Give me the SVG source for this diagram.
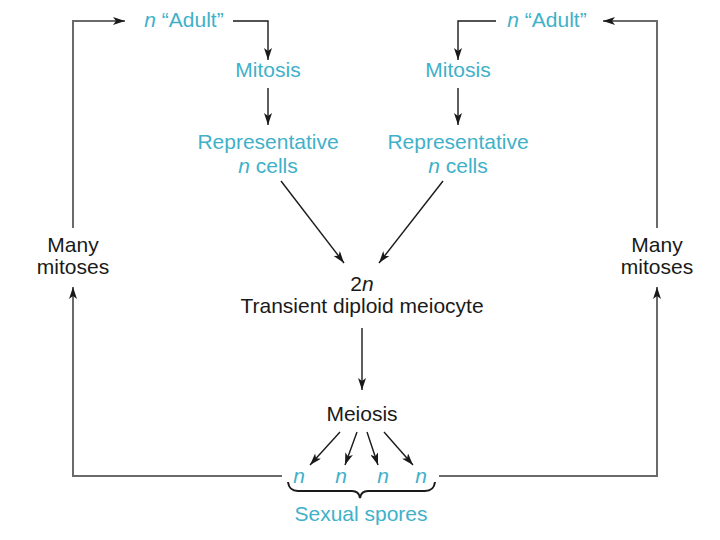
<svg xmlns="http://www.w3.org/2000/svg" width="720" height="540" viewBox="0 0 720 540">
<defs>
<style>
text{font-family:"Liberation Sans",Arial,sans-serif;font-size:21px;text-anchor:middle}
.c{fill:#3fb1c9}
.k{fill:#1a1a1a}
.i{font-style:italic}
.loop{fill:none;stroke:#6a6a6a;stroke-width:2}
.arr{fill:none;stroke:#1a1a1a;stroke-width:1.4}
</style>
<marker id="ah" viewBox="0 0 12 8" refX="12" refY="4" markerWidth="12" markerHeight="8" markerUnits="userSpaceOnUse" orient="auto">
<path d="M0,0 L12,4 L0,8 L3,4 z" fill="#1a1a1a"/>
</marker>
</defs>
<rect width="720" height="540" fill="#fff"/>
<g id="connectors">
<path class="loop" d="M73,228 V21 H125" marker-end="url(#ah)"/>
<path class="loop" d="M282,476 H73 V287" marker-end="url(#ah)"/>
<path class="loop" d="M657,228 V21 H603" marker-end="url(#ah)"/>
<path class="loop" d="M439,476 H657 V287" marker-end="url(#ah)"/>
<path class="arr" d="M233,21 H268 V60" marker-end="url(#ah)"/>
<path class="arr" d="M496,21 H458 V60" marker-end="url(#ah)"/>
<path class="arr" d="M268,88 V125" marker-end="url(#ah)"/>
<path class="arr" d="M458,88 V125" marker-end="url(#ah)"/>
<path class="arr" d="M281,181 L344,263" marker-end="url(#ah)"/>
<path class="arr" d="M443,181 L379,263" marker-end="url(#ah)"/>
<path class="arr" d="M362,328 V390" marker-end="url(#ah)"/>
<path class="arr" d="M340,432 L310,465" marker-end="url(#ah)"/>
<path class="arr" d="M357,432 L345,465" marker-end="url(#ah)"/>
<path class="arr" d="M367,432 L378,465" marker-end="url(#ah)"/>
<path class="arr" d="M384,432 L413,465" marker-end="url(#ah)"/>
</g>
<g id="adult-left"><text x="184" y="27" class="c"><tspan class="i">n</tspan> “Adult”</text></g>
<g id="adult-right"><text x="547" y="27" class="c"><tspan class="i">n</tspan> “Adult”</text></g>
<g id="mitosis-left"><text x="268" y="77" class="c">Mitosis</text></g>
<g id="mitosis-right"><text x="458" y="77" class="c">Mitosis</text></g>
<g id="rep-left"><text x="268" y="149" class="c">Representative</text><text x="268" y="173" class="c"><tspan class="i">n</tspan> cells</text></g>
<g id="rep-right"><text x="458" y="149" class="c">Representative</text><text x="458" y="173" class="c"><tspan class="i">n</tspan> cells</text></g>
<g id="meiocyte"><text x="362" y="291" class="k">2<tspan class="i">n</tspan></text><text x="362" y="313" class="k">Transient diploid meiocyte</text></g>
<g id="many-left"><text x="73" y="252" class="k">Many</text><text x="73" y="274" class="k">mitoses</text></g>
<g id="many-right"><text x="657" y="252" class="k">Many</text><text x="657" y="274" class="k">mitoses</text></g>
<g id="meiosis"><text x="362" y="421" class="k">Meiosis</text></g>
<g id="spores">
<text x="299" y="483" class="c i">n</text>
<text x="341" y="483" class="c i">n</text>
<text x="383" y="483" class="c i">n</text>
<text x="421" y="483" class="c i">n</text>
<path d="M288,482 Q289,491 298,491 L352,491 Q359,491 360,498 Q361,491 368,491 L425,491 Q434,491 435,482" fill="none" stroke="#1a1a1a" stroke-width="2"/>
<text x="361" y="521" class="c">Sexual spores</text>
</g>
</svg>
